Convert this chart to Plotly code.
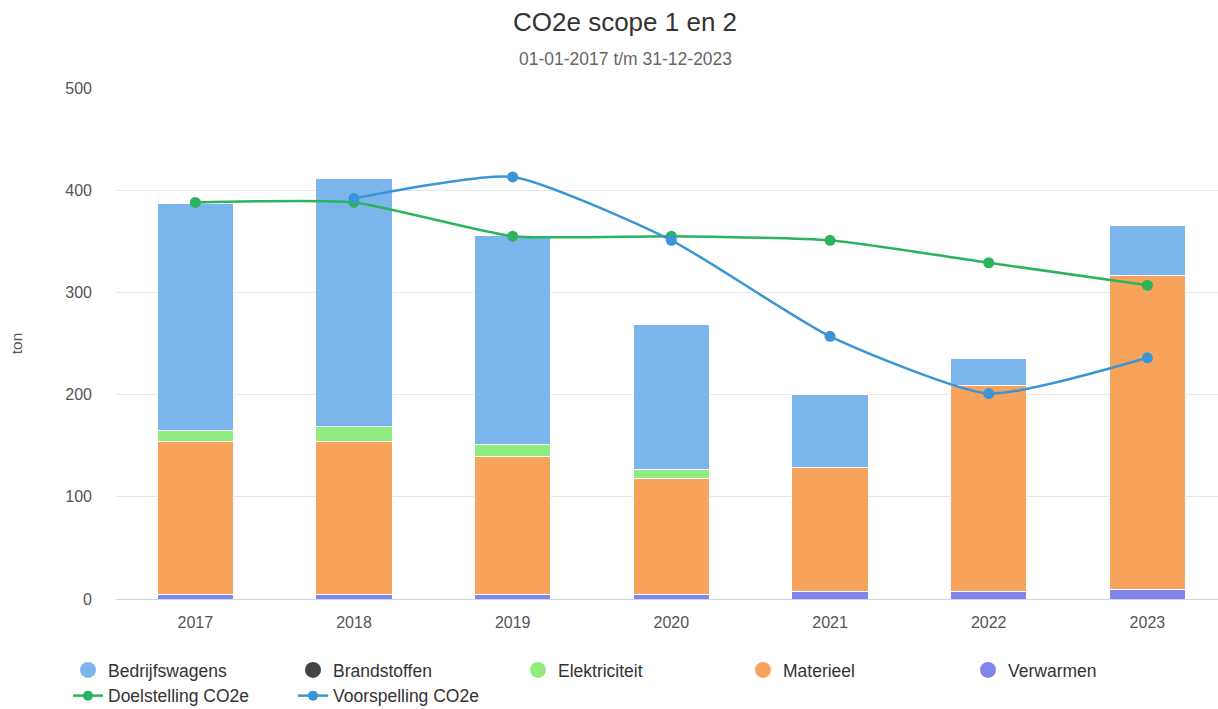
import plotly.graph_objects as go

years = ["2017", "2018", "2019", "2020", "2021", "2022", "2023"]
bedrijfswagens = [222, 242, 205, 142, 71, 26, 48]
brandstoffen = [0, 0, 0, 0, 0, 0, 0]
elektriciteit = [11, 15, 12, 9, 0, 0, 0]
materieel = [150, 150, 135, 114, 122, 202, 308]
verwarmen = [4, 4, 4, 4, 7, 7, 9]
doelstelling = [388, 388, 355, 355, 351, 329, 307]
voorspelling = [None, 392, 413, 351, 257, 201, 236]

bar_series = [
    ("Bedrijfswagens", bedrijfswagens, "#7cb5ec"),
    ("Brandstoffen", brandstoffen, "#434348"),
    ("Elektriciteit", elektriciteit, "#90ed7d"),
    ("Materieel", materieel, "#f7a35c"),
    ("Verwarmen", verwarmen, "#8085e9"),
]
line_series = [
    ("Doelstelling CO2e", doelstelling, "#2bb35e"),
    ("Voorspelling CO2e", voorspelling, "#3a95d6"),
]

FONT = "Liberation Sans, Arial, sans-serif"
W, H = 1218, 709
ML, MR, MT, MB = 116, 0, 88, 110
plot_h = H - MT - MB
plot_w = W - ML - MR

fig = go.Figure()

# Bars: stacked bottom-up in reverse legend order
for name, vals, col in reversed(bar_series):
    fig.add_trace(go.Bar(
        x=years, y=vals, name=name, marker=dict(color=col, line=dict(color="white", width=1)),
        showlegend=False, width=0.48,
    ))

for name, vals, col in line_series:
    fig.add_trace(go.Scatter(
        x=years, y=vals, name=name, mode="lines+markers",
        line=dict(color=col, width=2.5, shape="spline", smoothing=0.55),
        marker=dict(color=col, size=11), showlegend=False, connectgaps=False,
    ))

# Legend entries (circle symbols as in the reference)
for i, (name, vals, col) in enumerate(bar_series):
    fig.add_trace(go.Scatter(
        x=[None], y=[None], name=name, mode="markers", legendrank=i + 1,
        marker=dict(color=col, size=18, symbol="circle"), showlegend=True,
    ))
for i, (name, vals, col) in enumerate(line_series):
    fig.add_trace(go.Scatter(
        x=[None], y=[None], name=name, mode="lines+markers", legendrank=10 + i,
        line=dict(color=col, width=2.5), marker=dict(color=col, size=10), showlegend=True,
    ))

fig.update_layout(
    width=W, height=H,
    barmode="stack",
    plot_bgcolor="white", paper_bgcolor="white",
    font=dict(family=FONT, color="#333333"),
    margin=dict(l=ML, r=MR, t=MT, b=MB, autoexpand=False),
    xaxis=dict(
        type="category", range=[-0.5, 6.445], showgrid=False,
        showline=True, linecolor="#ccd6eb", linewidth=1,
        ticks="", tickfont=dict(size=16, color="#555555"), ticklabelstandoff=9,
    ),
    yaxis=dict(
        range=[0, 500], tickvals=[0, 100, 200, 300, 400, 500],
        showgrid=True, gridcolor="#e6e6e6", gridwidth=1,
        zeroline=False, tickfont=dict(size=16, color="#555555"),
        ticklabelstandoff=23,
        title=dict(text="ton", font=dict(size=15.5, color="#555555"), standoff=38),
    ),
    legend=dict(
        orientation="h", x=(68 - ML) / plot_w, xanchor="left",
        y=(H - MB - 652) / plot_h, yanchor="top",
        entrywidth=180, entrywidthmode="pixels", traceorder="normal",
        font=dict(size=17.5, color="#333333"), itemsizing="trace", tracegroupgap=0,
    ),
    annotations=[
        dict(text="CO2e scope 1 en 2", x=(625 - ML) / plot_w, y=(H - MB - 22) / plot_h,
             xref="paper", yref="paper", yanchor="middle",
             showarrow=False, font=dict(size=26, color="#333333")),
        dict(text="01-01-2017 t/m 31-12-2023", x=(625 - ML) / plot_w, y=(H - MB - 59) / plot_h,
             xref="paper", yref="paper", yanchor="middle",
             showarrow=False, font=dict(size=17.5, color="#666666")),
    ],
)

# remove the browser's default 8px body margin so the figure fills the window exactly
fig.write_html("out.html", config={"displayModeBar": False},
               post_script="document.body.style.margin='0px';")
